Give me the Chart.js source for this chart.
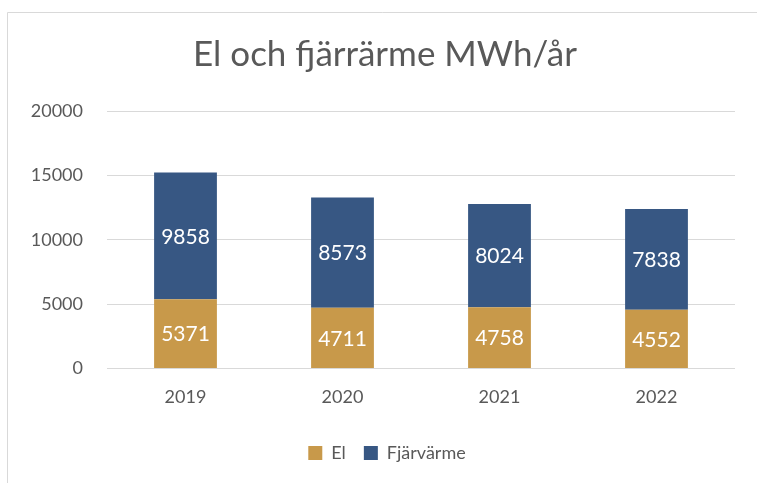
<!DOCTYPE html>
<html>
<head>
<meta charset="utf-8">
<script src="https://cdn.jsdelivr.net/npm/chart.js@4"></script>
<style>
  html, body { margin:0; padding:0; background:#ffffff; }
  #wrap { position:relative; width:757px; height:483px; }
  canvas { position:absolute; left:0; top:0; }
</style>
</head>
<body>
<div id="wrap"><canvas id="c" width="757" height="483"></canvas></div>
<script>
const categories = ['2019', '2020', '2021', '2022'];
const elValues = [5371, 4711, 4758, 4552];
const fjarrValues = [9858, 8573, 8024, 7838];
const yTicks = [0, 5000, 10000, 15000, 20000];
const titleText = 'El och fjärrärme MWh/år';
const seriesNames = ['El', 'Fjärvärme'];

const FONT = 'Lato, "Open Sans", sans-serif';

const frame = {
  id: 'frame',
  beforeDraw(chart) {
    const ctx = chart.ctx;
    ctx.save();
    ctx.fillStyle = '#ffffff';
    ctx.fillRect(0, 0, chart.width, chart.height);
    ctx.strokeStyle = '#d9d9d9';
    ctx.lineWidth = 1;
    ctx.beginPath();
    ctx.moveTo(7.5, chart.height);
    ctx.lineTo(7.5, 12.5);
    ctx.lineTo(chart.width, 12.5);
    ctx.stroke();
    ctx.restore();
  }
};

// centre title and legend on the outer chart frame (which extends past the right edge)
const recentre = {
  id: 'recentre',
  afterLayout(chart) {
    if (chart.titleBlock) { chart.titleBlock.left = 35; chart.titleBlock.right = 735; }
    if (chart.legend) { chart.legend.left = 39; chart.legend.right = 735; }
  }
};

const valueLabels = {
  id: 'valueLabels',
  afterDatasetsDraw(chart) {
    const ctx = chart.ctx;
    ctx.save();
    ctx.font = '21px ' + FONT;
    ctx.fillStyle = '#ffffff';
    ctx.textAlign = 'center';
    ctx.textBaseline = 'middle';
    chart.data.datasets.forEach((ds, di) => {
      const meta = chart.getDatasetMeta(di);
      meta.data.forEach((bar, i) => {
        const p = bar.getProps(['x', 'y', 'base'], true);
        ctx.fillText(String(ds.data[i]), p.x, (p.y + p.base) / 2 + 1);
      });
    });
    ctx.restore();
  }
};

new Chart(document.getElementById('c'), {
  type: 'bar',
  data: {
    labels: categories,
    datasets: [
      { label: seriesNames[0], data: elValues, backgroundColor: '#c8994a', borderWidth: 0 },
      { label: seriesNames[1], data: fjarrValues, backgroundColor: '#375783', borderWidth: 0 }
    ]
  },
  options: {
    responsive: false,
    animation: false,
    devicePixelRatio: 1,
    layout: { padding: { left: 0, right: 22, top: 0, bottom: 11 } },
    datasets: { bar: { categoryPercentage: 1.0, barPercentage: 0.4 } },
    plugins: {
      title: {
        display: true,
        text: titleText,
        color: '#595959',
        font: { family: FONT, size: 35, weight: 'normal' },
        padding: { top: 34, bottom: 35 }
      },
      legend: {
        position: 'bottom',
        labels: {
          color: '#595959',
          font: { family: FONT, size: 18 },
          boxWidth: 14,
          boxHeight: 14,
          padding: 18
        }
      },
      tooltip: { enabled: false }
    },
    scales: {
      x: {
        stacked: true,
        grid: { display: false, drawTicks: false },
        border: { display: false },
        ticks: { color: '#595959', font: { family: FONT, size: 18 }, padding: 18 }
      },
      y: {
        stacked: true,
        min: 0,
        max: 20000,
        afterFit(scale) { scale.width = 107; },
        afterBuildTicks(scale) { scale.ticks = yTicks.map(v => ({ value: v })); },
        grid: { color: '#d9d9d9', drawTicks: false, lineWidth: 1 },
        border: { display: false },
        ticks: {
          color: '#595959',
          font: { family: FONT, size: 18 },
          padding: 24,
          callback: (v) => String(v)
        }
      }
    }
  },
  plugins: [frame, recentre, valueLabels]
});
</script>
</body>
</html>
